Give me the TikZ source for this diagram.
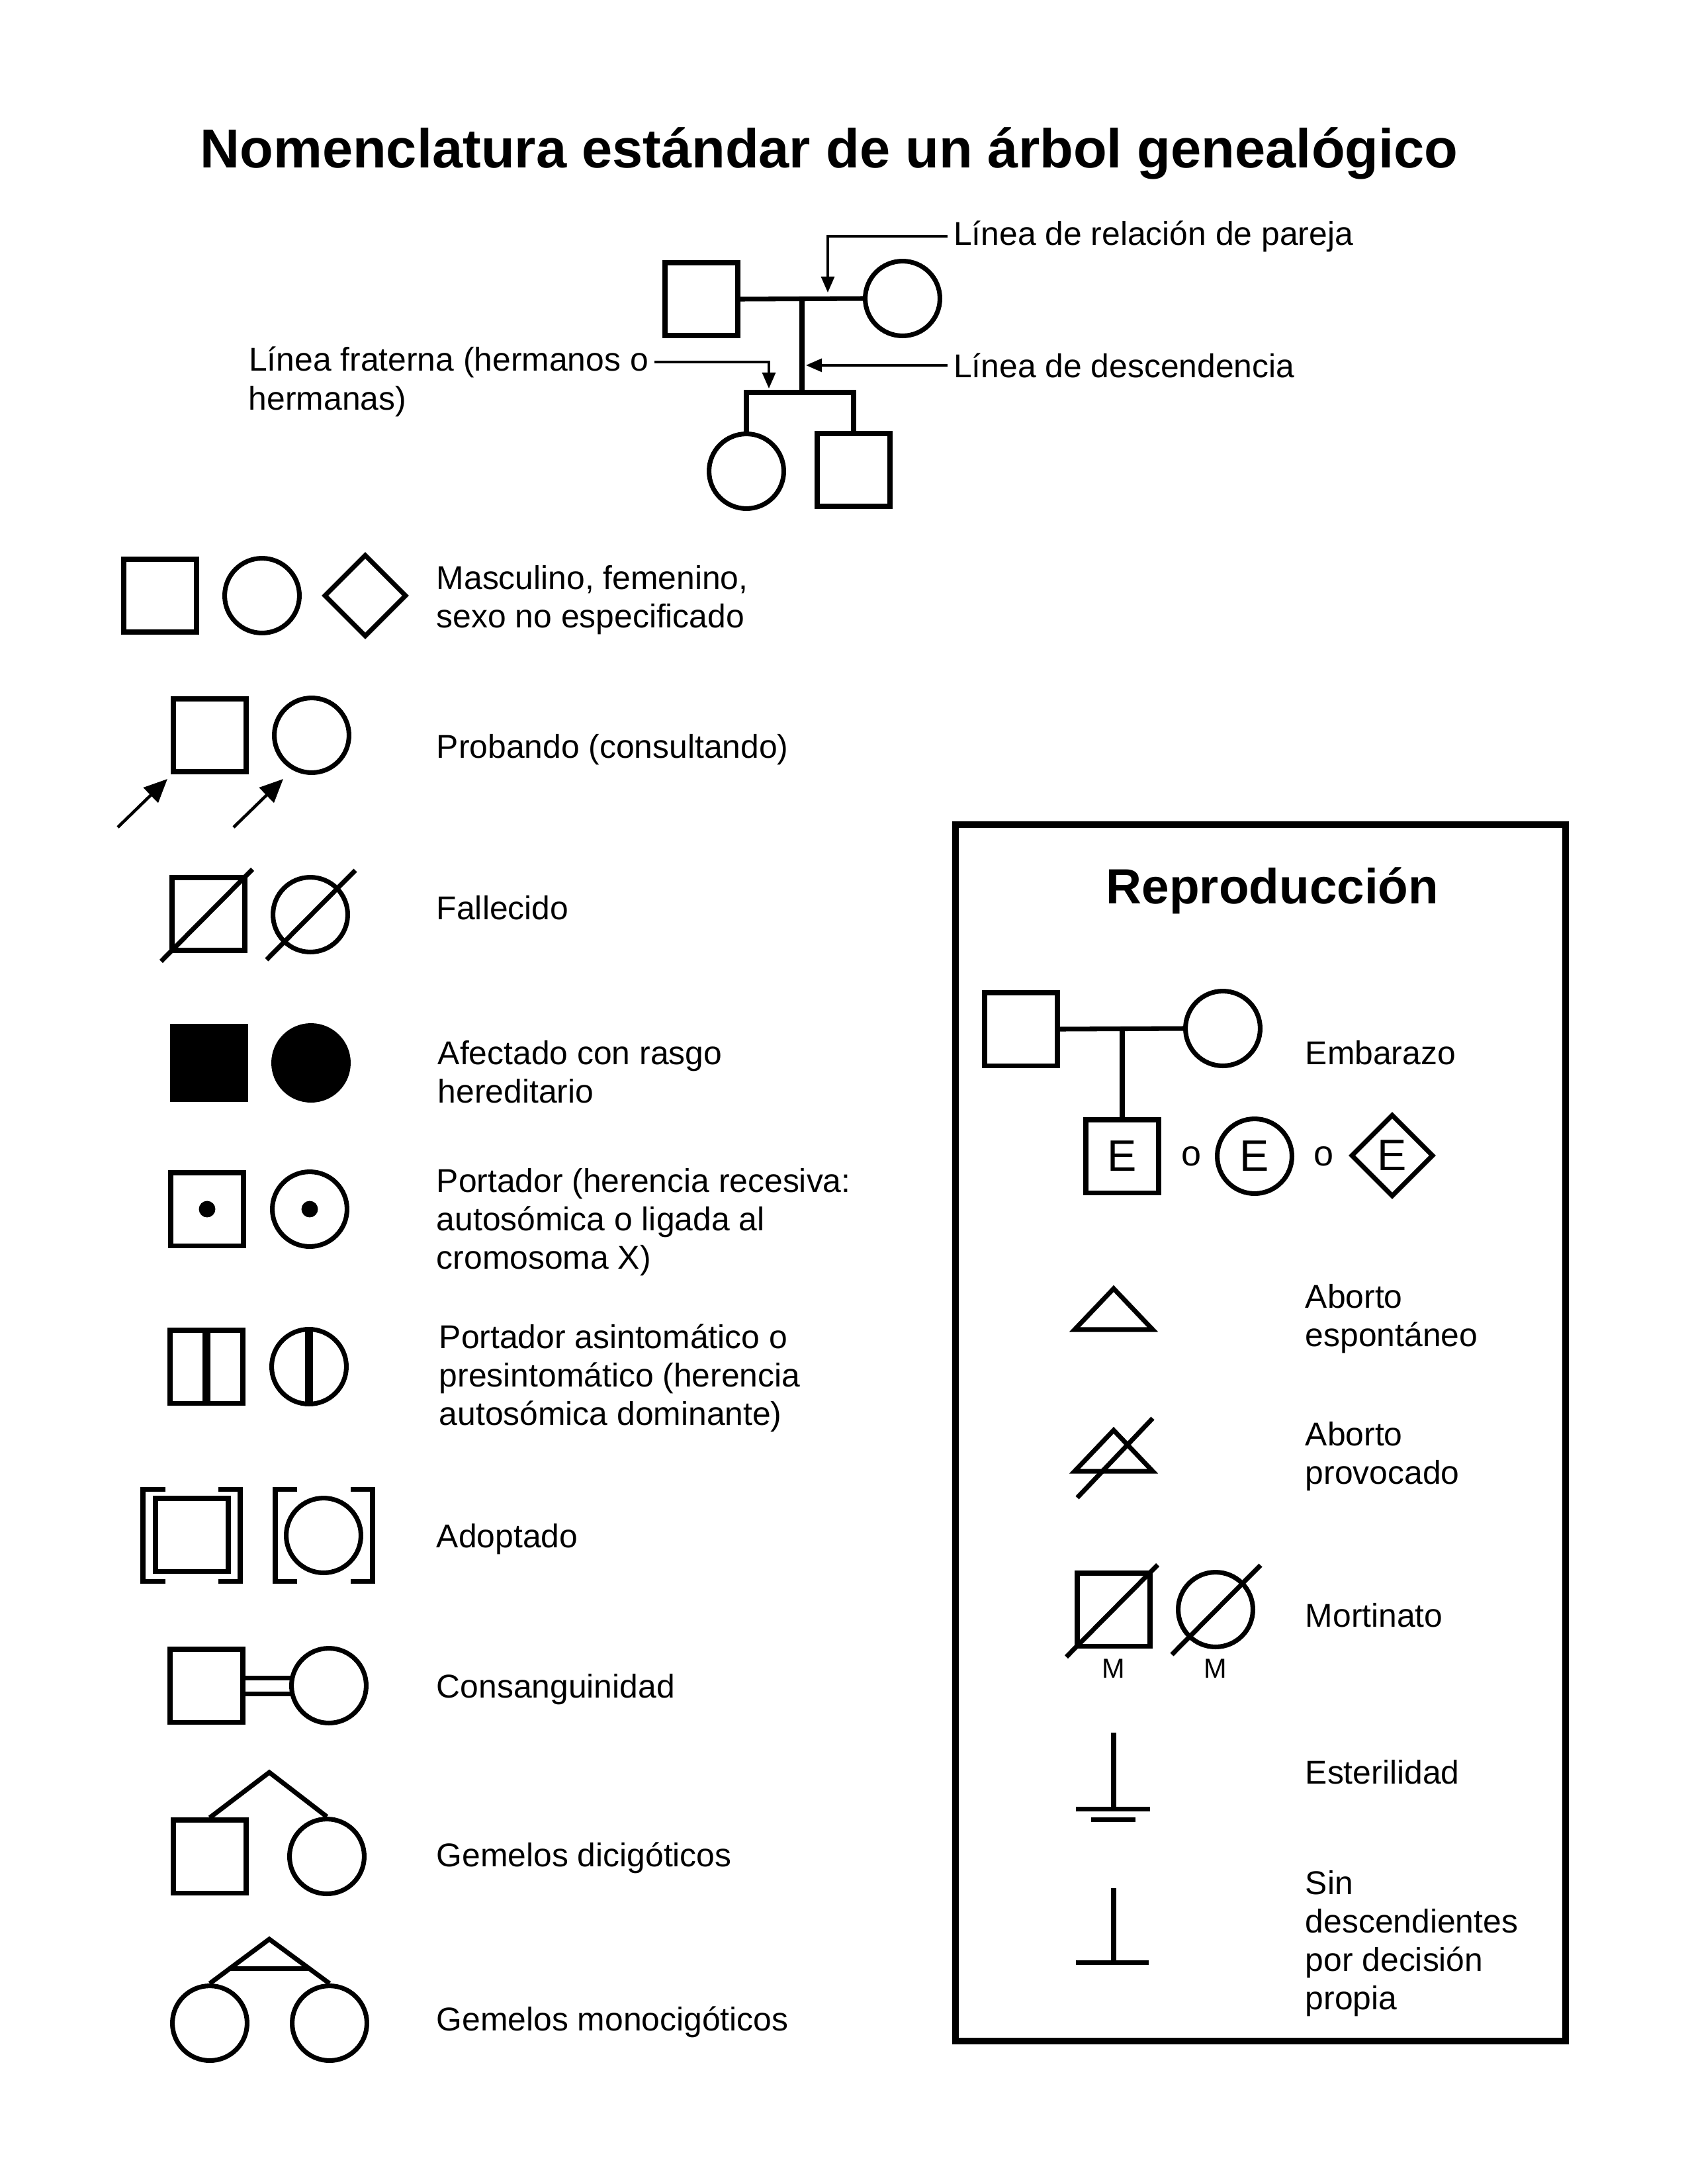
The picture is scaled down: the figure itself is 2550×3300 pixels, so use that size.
\documentclass[tikz,border=0pt]{standalone}
\usepackage{fontspec}
\setmainfont{Liberation Sans}
\usetikzlibrary{arrows.meta,shapes.geometric,calc}
\begin{document}
\begin{tikzpicture}[x=0.24088pt,y=-0.24088pt,
  ln/.style={line width=1.7pt},
  sq/.style={draw, line width=1.7pt, rectangle, inner sep=0pt, minimum size=26.5pt},
  ci/.style={draw, line width=1.7pt, circle, inner sep=0pt, minimum size=27.2pt},
  dm/.style={draw, line width=1.7pt, diamond, inner sep=0pt, minimum width=30pt, minimum height=30pt},
  lab/.style={anchor=base west, inner sep=0pt, font=\fontsize{12}{14}\selectfont},
  callout/.style={line width=0.85pt, -{Triangle[length=5.8pt,width=4.8pt]}},
  probarrow/.style={line width=1.1pt, -{Triangle[length=8.5pt,width=7.5pt]}},
  cdot/.style={circle, fill, inner sep=0pt, minimum size=6pt},
  bigE/.style={font=\fontsize{16}{19}\selectfont},
  conj/.style={inner sep=0pt, font=\fontsize{13}{15}\selectfont},
  halfline/.style={line width=2.8pt},
]
\useasboundingbox (0,0) rectangle (2550,3300);

% ---------- title ----------
\node[anchor=base, font=\fontsize{20}{24}\selectfont\bfseries] (title) at (1253,253)
  {Nomenclatura estándar de un árbol genealógico};

% ---------- small pedigree with callouts ----------
\node[sq] (fa) at (1060,452) {};
\node[ci] (mo) at (1364,451) {};
\coordinate (cm) at (1212,452);
\coordinate (sib) at (1212,593);
\node[ci] (da) at (1128,712) {};
\node[sq] (so) at (1290,710) {};
\draw[ln] (fa.east) -- (mo.west);
\draw[ln] (cm) -- (sib);
\draw[ln] (da.north) -- (da.north |- sib) -- (so.north |- sib) -- (so.north);

\node[lab, inner xsep=2pt] (lrel) at (1432,370) {Línea de relación de pareja};
\node[lab, inner xsep=2pt] (ldesc) at (1432,570) {Línea de descendencia};
\node[lab, inner xsep=2pt] (lfratA) at (367,560) {Línea fraterna (hermanos o};
\node[lab] (lfratB) at (375,619) {hermanas)};

\coordinate (relTip) at (1251,442);
\coordinate (descTip) at (1218,553);
\coordinate (fratTip) at (1162,587);
\draw[callout] (lrel.west) -| (relTip);
\draw[callout] (ldesc.west) -- (ldesc.west -| descTip);
\draw[callout] (lfratA.east) -| (fratTip);

% ---------- left column of symbols ----------
% male, female, unspecified
\node[sq] (m1) at (242,900) {};
\node[ci] (f1) at (396,900) {};
\node[dm] (u1) at (552,900) {};
\node[lab] (t1) at (659,890) {\begin{tabular}[t]{@{}l@{}}Masculino, femenino,\\sexo no especificado\end{tabular}};

% proband
\node[sq] (m2) at (317,1111) {};
\node[ci] (f2) at (471,1111) {};
\coordinate (p1) at (178,1250);
\coordinate (pt1) at (253,1177);
\coordinate (p2) at (353,1250);
\coordinate (pt2) at (428,1177);
\draw[probarrow] (p1) -- (pt1);
\draw[probarrow] (p2) -- (pt2);
\node[lab] (t2) at (659,1145) {Probando (consultando)};

% deceased
\node[sq] (m3) at (315,1381) {};
\node[ci] (f3) at (469,1382) {};
\draw[ln] ($(m3.south west)+(-13,13)$) -- ($(m3.north east)+(8,-9)$);
\draw[ln] ($(f3.center)+(-66,68)$) -- ($(f3.center)+(68,-67)$);
\node[lab] (t3) at (659,1389) {Fallecido};

% affected
\node[sq, fill] (m4) at (316,1606) {};
\node[ci, fill] (f4) at (470,1606) {};
\node[lab] (t4) at (661,1608) {\begin{tabular}[t]{@{}l@{}}Afectado con rasgo\\hereditario\end{tabular}};

% carrier (recessive)
\node[sq] (m5) at (313,1827) {};
\node[cdot] (d5a) at (m5.center) {};
\node[ci] (f5) at (468,1827) {};
\node[cdot] (d5b) at (f5.center) {};
\node[lab] (t5) at (659,1801) {\begin{tabular}[t]{@{}l@{}}Portador (herencia recesiva:\\autosómica o ligada al\\cromosoma X)\end{tabular}};

% asymptomatic carrier
\node[sq] (m6) at (312,2065) {};
\draw[halfline] (m6.north) -- (m6.south);
\node[ci] (f6) at (467,2065) {};
\draw[halfline] (f6.north) -- (f6.south);
\node[lab] (t6) at (663,2037) {\begin{tabular}[t]{@{}l@{}}Portador asintomático o\\presintomático (herencia\\autosómica dominante)\end{tabular}};

% adopted
\node[sq] (m7) at (290,2319) {};
\draw[ln] (250,2250) -- (216,2250) -- (216,2389) -- (250,2389);
\draw[ln] (330,2250) -- (363,2250) -- (363,2389) -- (330,2389);
\node[ci] (f7) at (489,2320) {};
\draw[ln] (449,2250) -- (416,2250) -- (416,2389) -- (449,2389);
\draw[ln] (530,2250) -- (563,2250) -- (563,2389) -- (530,2389);
\node[lab] (t7) at (659,2338) {Adoptado};

% consanguinity
\node[sq] (m8) at (312,2547) {};
\node[ci] (f8) at (497,2547) {};
\draw[ln] ($(m8.east)+(0,-12)$) -- ($(f8.west)+(1.5,-12)$);
\draw[ln] ($(m8.east)+(0,12)$) -- ($(f8.west)+(1.5,12)$);
\node[lab] (t8) at (659,2565) {Consanguinidad};

% dizygotic twins
\node[sq] (m9) at (317,2805) {};
\node[ci] (f9) at (494,2805) {};
\coordinate (ap9) at (407,2678);
\draw[ln] (m9.north) -- (ap9) -- (f9.north);
\node[lab] (t9) at (659,2820) {Gemelos dicigóticos};

% monozygotic twins
\node[ci] (fa10) at (317,3057) {};
\node[ci] (fb10) at (498,3057) {};
\coordinate (ap10) at (407,2930);
\draw[ln] (fa10.north) -- (ap10) -- (fb10.north);
\draw[ln] ($(ap10)!0.667!(fa10.north)$) -- ($(ap10)!0.667!(fb10.north)$);
\node[lab] (t10) at (659,3068) {Gemelos monocigóticos};

% ---------- reproduction panel ----------
\draw[line width=2.5pt] (1444,1246) rectangle (2366,3084);
\node[anchor=base, font=\fontsize{18}{22}\selectfont\bfseries] (rtitle) at (1923,1365) {Reproducción};

% pregnancy
\node[sq] (ef) at (1543,1555) {};
\node[ci] (em) at (1848,1554) {};
\coordinate (ecm) at (1696,1555);
\node[sq, bigE] (e1) at (1696,1747) {E};
\node[conj] (o1) at (1800,1747) {o};
\node[ci, bigE] (e2) at (1896,1747) {E};
\node[conj] (o2) at (2000,1747) {o};
\node[dm, bigE] (e3) at (2104,1746) {E};
\draw[ln] (ef.east) -- (em.west);
\draw[ln] (e1.north |- ecm) -- (e1.north);
\node[lab] (temb) at (1972,1608) {Embarazo};

% spontaneous abortion
\coordinate (sa1) at (1683,1947);
\coordinate (sa2) at (1624,2009);
\coordinate (sa3) at (1742,2009);
\draw[ln] (sa1) -- (sa2) -- (sa3) -- cycle;
\node[lab] (tsa) at (1972,1976) {\begin{tabular}[t]{@{}l@{}}Aborto\\espontáneo\end{tabular}};

% induced abortion
\coordinate (ia1) at (1683,2161);
\coordinate (ia2) at (1624,2223);
\coordinate (ia3) at (1742,2223);
\draw[ln] (ia1) -- (ia2) -- (ia3) -- cycle;
\draw[ln] (1628,2263) -- (1742,2143);
\node[lab] (tia) at (1972,2184) {\begin{tabular}[t]{@{}l@{}}Aborto\\provocado\end{tabular}};

% stillbirth
\node[sq] (ms) at (1683,2432) {};
\node[ci] (mc) at (1837,2432) {};
\draw[ln] ($(ms.south west)+(-13,13)$) -- ($(ms.north east)+(8,-9)$);
\draw[ln] ($(mc.center)+(-66,68)$) -- ($(mc.center)+(68,-67)$);
\node[font=\fontsize{10}{12}\selectfont] (msl) at (1683,2521) {M};
\node[font=\fontsize{10}{12}\selectfont] (mcl) at (1837,2521) {M};
\node[lab] (tsb) at (1972,2458) {Mortinato};

% infertility
\draw[ln] (1683,2618) -- (1683,2733);
\draw[ln] (1626,2733) -- (1738,2733);
\draw[ln] (1649,2749) -- (1716,2749);
\node[lab] (tinf) at (1972,2695) {Esterilidad};

% no children by choice
\draw[ln] (1683,2853) -- (1683,2965);
\draw[ln] (1626,2965) -- (1736,2965);
\node[lab] (tnc) at (1972,2862) {\begin{tabular}[t]{@{}l@{}}Sin\\descendientes\\por decisión\\propia\end{tabular}};

\end{tikzpicture}
\end{document}
